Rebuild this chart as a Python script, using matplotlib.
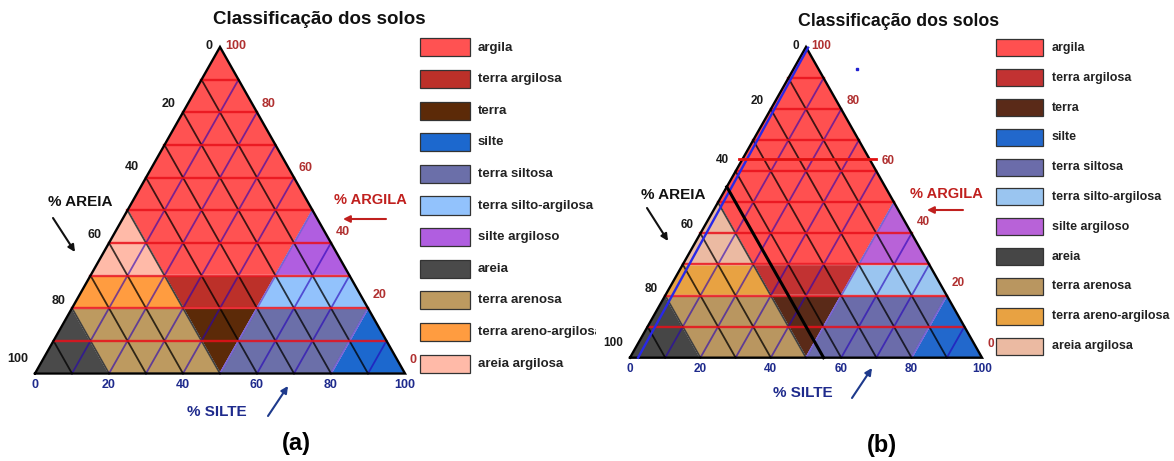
import matplotlib.pyplot as plt
from matplotlib.patches import Polygon, Rectangle
import numpy as np

plt.rcParams['font.family'] = ['Liberation Sans', 'DejaVu Sans']

W, H = 1174, 461

# textos
title = 'Classificação dos solos'
classes = ['argila', 'terra argilosa', 'terra', 'silte', 'terra siltosa',
           'terra silto-argilosa', 'silte argiloso', 'areia', 'terra arenosa',
           'terra areno-argilosa', 'areia argilosa']

# cores de cada classe (a) e (b)
colors_a = ['#FF5252', '#BC3029', '#5C2A08', '#1C68CE', '#6B6FA9', '#92C2FC',
            '#B05EE0', '#4A4A4A', '#BD9A60', '#FF9C40', '#FFBAA8']
colors_b = ['#FF5050', '#C23232', '#5A2A18', '#2268CC', '#6B6CAA', '#9AC5F0',
            '#B862D8', '#464646', '#B99660', '#E8A242', '#EBBAA2']

# poligonos das classes, vertices em (% silte, % argila)
poly_argila = [(0, 50), (20, 30), (50, 30), (50, 50), (0, 100)]
poly_terra_argilosa = [(30, 20), (50, 20), (50, 30), (20, 30)]
poly_terra = [(30, 20), (50, 20), (50, 0)]
poly_silte = [(80, 0), (100, 0), (80, 20)]
poly_terra_siltosa = [(50, 0), (80, 0), (80, 20), (50, 20)]
poly_silto_argilosa = [(50, 20), (80, 20), (70, 30), (50, 30)]
poly_silte_argiloso = [(50, 30), (70, 30), (50, 50)]
poly_areia = [(0, 0), (20, 0), (0, 20)]
poly_terra_arenosa = [(20, 0), (50, 0), (30, 20), (0, 20)]
poly_areno_argilosa = [(0, 20), (30, 20), (20, 30), (0, 30)]
poly_areia_argilosa = [(0, 30), (20, 30), (0, 50)]
polys = [poly_argila, poly_terra_argilosa, poly_terra, poly_silte,
         poly_terra_siltosa, poly_silto_argilosa, poly_silte_argiloso,
         poly_areia, poly_terra_arenosa, poly_areno_argilosa, poly_areia_argilosa]

ticks = [0, 20, 40, 60, 80, 100]
grid_vals = [10, 20, 30, 40, 50, 60, 70, 80, 90]

# linhas extra do painel (b)
blue_silt = [0.7, 2.3]
blue_clay = [99.8, 0]
black_silt = [0, 55]
black_clay = [55, 0]
red_silt = [-1, 38]
red_clay = [64, 64]
dot_silt = [18]
dot_clay = [93]


def tern(s, c):
    s = np.asarray(s, dtype=float)
    c = np.asarray(c, dtype=float)
    return s + c / 2, c


fig = plt.figure(figsize=(W / 100, H / 100), dpi=100)


def setup(x0, x1, bl, br, ay, by, z):
    ax = fig.add_axes([x0 / W, 0, (x1 - x0) / W, 1], zorder=z)
    sx = (br - bl) / 100
    sy = (by - ay) / 100
    ax.set_xlim((x0 - bl) / sx, (x1 - bl) / sx)
    ax.set_ylim((by - H) / sy, by / sy)
    ax.set_xticks([])
    ax.set_yticks([])
    for sp in ax.spines.values():
        sp.set_visible(False)
    ax.set_facecolor('white')

    def px(x, y):
        return ((x - bl) / sx, (by - y) / sy)
    return ax, px


left_dy = [1, 8, 11, 8, 7, 15]     # deslocamento vertical (px) dos rótulos de areia
right_dy = [14, 13, 11, 10, 8, 1]  # rótulos de argila


def draw_panel(ax, px, colors, lay):
    # regiões
    for verts, col in zip(polys, colors):
        x, y = tern([v[0] for v in verts], [v[1] for v in verts])
        ax.add_patch(Polygon(np.column_stack([x, y]), closed=True, facecolor=col,
                             edgecolor='white', lw=1.0, zorder=1))
    # grade
    for v in grid_vals:
        x, y = tern([0, 100 - v], [100 - v, 0])
        ax.plot(x, y, color='black', lw=1.3, alpha=0.75, zorder=2)
        x, y = tern([v, v], [0, 100 - v])
        ax.plot(x, y, color='#2400B8', lw=1.3, alpha=0.6, zorder=2)
        x, y = tern([0, 100 - v], [v, v])
        ax.plot(x, y, color='#E8101A', lw=1.7, alpha=0.85, zorder=3)
    x, y = tern([0, 100, 0, 0], [0, 0, 100, 0])
    ax.plot(x, y, color='black', lw=1.7, zorder=6, solid_joinstyle='miter')

    fs = lay['fs']
    for i, v in enumerate(ticks):
        # areia (lado esquerdo)
        ax.annotate(str(v), tern(0, 100 - v), xytext=(-7, left_dy[i]),
                    textcoords='offset pixels', ha='right', va='center',
                    fontsize=fs, fontweight='bold', color='#1A1A1A', zorder=8)
        # argila (lado direito)
        ax.annotate(str(v), tern(100 - v, v), xytext=(5, right_dy[i]),
                    textcoords='offset pixels', ha='left', va='center',
                    fontsize=fs, fontweight='bold', color='#B03030', zorder=8)
        # silte (base)
        ax.annotate(str(v), tern(v, 0), xytext=(0, -11),
                    textcoords='offset pixels', ha='center', va='center',
                    fontsize=fs, fontweight='bold', color='#1E2A8C', zorder=8)

    # título
    ax.text(*px(*lay['title']), title, ha='center', va='center',
            fontsize=lay['tfs'], fontweight='bold', color='#111111')

    # nomes dos eixos e setas
    ax.text(*px(*lay['areia']), '% AREIA', ha='center', va='center',
            fontsize=11, fontweight='bold', color='#111111')
    ax.text(*px(*lay['argila']), '% ARGILA', ha='center', va='center',
            fontsize=10.5, fontweight='bold', color='#C0201E')
    ax.text(*px(*lay['silte']), '% SILTE', ha='center', va='center',
            fontsize=11, fontweight='bold', color='#1E2A8C')
    for key, col in [('arr_areia', '#111111'), ('arr_argila', '#C0201E'),
                     ('arr_silte', '#1E3A8C')]:
        (x0, y0), (x1, y1) = lay[key]
        ax.annotate('', xy=px(x1, y1), xytext=px(x0, y0),
                    arrowprops=dict(arrowstyle='-|>', color=col, lw=1.5,
                                    mutation_scale=10, shrinkA=0, shrinkB=0))

    # legenda
    bx0, bx1, by0, dy, bh, tx, lfs = lay['legend']
    for i, (name, col) in enumerate(zip(classes, colors)):
        yc = by0 + dy * i
        xa, ya = px(bx0, yc + bh / 2)
        xb, yb = px(bx1, yc - bh / 2)
        ax.add_patch(Rectangle((xa, ya), xb - xa, yb - ya, facecolor=col,
                               edgecolor='#333333', lw=0.9, clip_on=False, zorder=5))
        ax.text(*px(tx, yc), name, ha='left', va='center', fontsize=lfs,
                fontweight='bold', color='#222222', clip_on=False)

    ax.text(*px(*lay['cap']), lay['cap_text'], ha='center', va='center',
            fontsize=17, fontweight='bold', color='black')


# painel (a)
ax_a, px_a = setup(0, 596, 35, 405, 47, 373.5, 0)
lay_a = dict(fs=9, tfs=13.5, title=(319, 20), areia=(80, 202), argila=(370, 200),
             silte=(217, 412), arr_areia=((53, 218), (75, 252)),
             arr_argila=((386, 219), (343, 219)), arr_silte=((268, 416), (288, 386)),
             legend=(420, 470, 47.5, 31.6, 18, 478, 9.5), cap=(296, 443), cap_text='(a)')
draw_panel(ax_a, px_a, colors_a, lay_a)

# painel (b)
ax_b, px_b = setup(596, 1174, 630, 982, 47, 357.7, 1)
lay_b = dict(fs=8.5, tfs=12.8, title=(899, 22), areia=(673, 195), argila=(946, 194),
             silte=(803, 393), arr_areia=((647, 208), (668, 241)),
             arr_argila=((963, 210), (927, 210)), arr_silte=((852, 398), (872, 368)),
             legend=(996, 1043, 48, 29.8, 17, 1052, 9), cap=(882, 445), cap_text='(b)')
draw_panel(ax_b, px_b, colors_b, lay_b)

x, y = tern(blue_silt, blue_clay)
ax_b.plot(x, y, color='#2828E8', lw=1.7, zorder=7)
x, y = tern(black_silt, black_clay)
ax_b.plot(x, y, color='black', lw=2.2, zorder=7)
x, y = tern(red_silt, red_clay)
ax_b.plot(x, y, color='#E01010', lw=2.0, zorder=7)
x, y = tern(dot_silt, dot_clay)
ax_b.plot(x, y, 's', color='#2020D0', ms=2, zorder=7)

fig.savefig('out.png', dpi=100)
